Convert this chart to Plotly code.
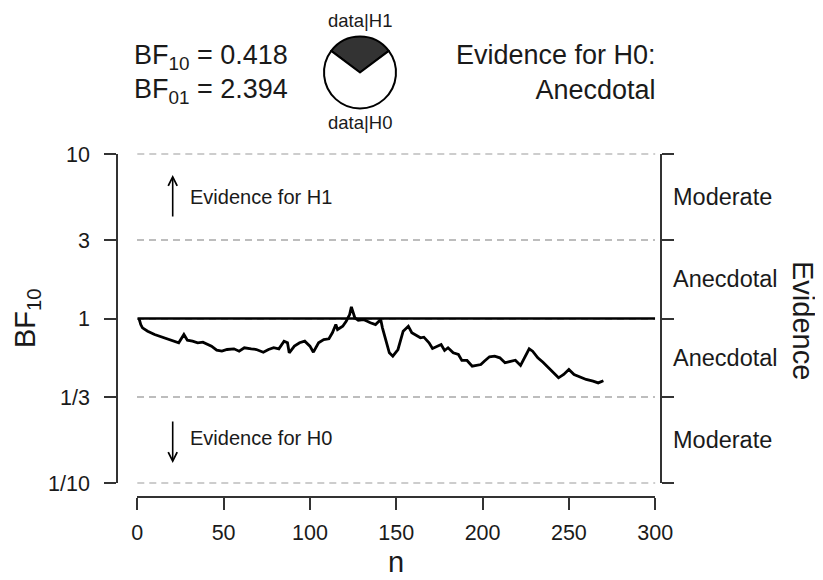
import numpy as np
import plotly.graph_objects as go

# ---------------- data ----------------
n_values = [1, 2, 3, 6, 10, 14, 17, 21, 24, 27, 29, 32, 35, 38, 41, 43, 46, 49, 52, 56,
            59, 62, 66, 69, 73, 76, 79, 82, 85, 87, 88, 91, 94, 97, 100, 102, 105, 108, 111, 113,
            115, 116, 119, 121, 123, 124, 126, 128, 131, 134, 135, 138, 141, 142, 144, 146, 148, 151, 154, 157,
            159, 161, 164, 166, 169, 171, 174, 176, 178, 180, 183, 186, 188, 191, 194, 197, 199, 201, 204, 207,
            210, 213, 216, 219, 222, 225, 227, 229, 232, 235, 238, 241, 244, 247, 250, 253, 256, 260, 264, 267,
            270]
bf10_values = [1.000, 0.919, 0.878, 0.837, 0.799, 0.774, 0.753, 0.728, 0.712, 0.799, 0.738, 0.728, 0.712, 0.718, 0.695, 0.679, 0.642, 0.633, 0.648, 0.654,
               0.633, 0.664, 0.654, 0.648, 0.624, 0.648, 0.664, 0.654, 0.728, 0.712, 0.619, 0.679, 0.712, 0.728, 0.679, 0.624, 0.712, 0.745, 0.753, 0.819,
               0.919, 0.857, 0.898, 0.963, 1.057, 1.178, 1.010, 0.976, 0.986, 0.950, 0.942, 0.919, 0.986, 0.878, 0.728, 0.619, 0.590, 0.648, 0.837, 0.898,
               0.819, 0.799, 0.763, 0.770, 0.712, 0.657, 0.679, 0.695, 0.639, 0.664, 0.619, 0.604, 0.556, 0.556, 0.513, 0.520, 0.525, 0.550, 0.585, 0.590,
               0.577, 0.538, 0.550, 0.558, 0.518, 0.590, 0.654, 0.633, 0.577, 0.542, 0.502, 0.468, 0.436, 0.457, 0.490, 0.457, 0.442, 0.426, 0.416, 0.406,
               0.418]

bf10_final = 0.418
bf01_final = 2.394
evidence_text = "Evidence for H0:<br>Anecdotal"

x_ticks = [0, 50, 100, 150, 200, 250, 300]
y_ticks = [1 / 10, 1 / 3, 1, 3, 10]
y_tick_labels = ["1/10", "1/3", "1", "3", "10"]
threshold_one = 1
evidence_bands = [(3, 10, "Moderate"), (1, 3, "Anecdotal"), (1 / 3, 1, "Anecdotal"), (1 / 10, 1 / 3, "Moderate")]
pie_labels = ["data|H1", "data|H0"]

# ---------------- layout helpers ----------------
W, H = 823, 580
OFF = 8  # page body margin
FONT = "Liberation Sans, Arial, Helvetica, sans-serif"
TXT = "#1a1a1a"
AX = "#333333"
GRID = "#BDBDBD"
DASH = "7px,5px"


def fx(p):
    return (p - OFF) / W


def fy(p):
    return 1 - (p - OFF) / H


fig = go.Figure()

# reference line at BF = 1
fig.add_trace(go.Scatter(x=[x_ticks[0], x_ticks[-1]], y=[threshold_one, threshold_one], mode="lines",
                         line=dict(color="black", width=2.6), hoverinfo="skip", showlegend=False))
# sequential BF line
fig.add_trace(go.Scatter(x=n_values, y=bf10_values, mode="lines",
                         line=dict(color="black", width=2.8), showlegend=False))
# dummy trace for the right axis
fig.add_trace(go.Scatter(x=[None], y=[None], yaxis="y2", showlegend=False, hoverinfo="skip"))

# pie
p_h1 = bf10_final / (1 + bf10_final)
fig.add_trace(go.Pie(values=[p_h1, 1 - p_h1], labels=pie_labels, sort=False, direction="clockwise",
                     rotation=-360 * p_h1 / 2, textinfo="none", hoverinfo="none",
                     marker=dict(colors=["#333333", "white"], line=dict(color="black", width=2)),
                     domain=dict(x=[fx(324), fx(396)], y=[fy(108.5), fy(36.5)]), showlegend=False))

tick_font = dict(family=FONT, size=21.5, color=TXT)

fig.update_layout(
    template="none",
    width=W, height=H, autosize=False,
    margin=dict(l=0, r=0, t=0, b=0, pad=0, autoexpand=False),
    paper_bgcolor="white", plot_bgcolor="white",
    showlegend=False,
    font=dict(family=FONT, color=TXT),
    xaxis=dict(domain=[fx(137.3), fx(655.2)], range=[0, 300], tickvals=x_ticks,
               ticks="outside", ticklen=12, tickwidth=1.5, tickcolor=AX, automargin=False,
               showline=True, linecolor=AX, linewidth=1.5, showgrid=False, zeroline=False,
               anchor="free", position=fy(497), tickfont=tick_font, ticklabelstandoff=4),
    yaxis=dict(type="log", range=[-1, 1], domain=[fy(483), fy(154)], tickvals=y_ticks, ticktext=y_tick_labels,
               ticks="outside", ticklen=12, tickwidth=1.5, tickcolor=AX, automargin=False,
               showline=True, linecolor=AX, linewidth=1.5, zeroline=False,
               showgrid=True, gridcolor=GRID, gridwidth=1.5, griddash=DASH,
               anchor="free", position=fx(117), tickfont=tick_font, ticklabelstandoff=10),
    yaxis2=dict(type="log", range=[-1, 1], overlaying="y", side="right", tickvals=y_ticks,
                showticklabels=False, ticks="outside", ticklen=12, tickwidth=1.5, tickcolor=AX,
                showline=True, linecolor=AX, linewidth=1.5, showgrid=False, zeroline=False,
                automargin=False, anchor="free", position=fx(661)),
)

# dashed lines at the top (10) and bottom (1/10) edges of the plotting region
for edge in (0, 1):
    fig.add_shape(type="line", xref="x domain", yref="y domain", x0=0, x1=1, y0=edge, y1=edge,
                  line=dict(color=GRID, width=1.5, dash=DASH), layer="below")

ann = []


def note(text, x, y, size, xanchor="center", yanchor="middle", yref="paper", **kw):
    ann.append(dict(text=text, x=x, y=y, xref="paper", yref=yref, xanchor=xanchor, yanchor=yanchor,
                    showarrow=False, font=dict(family=FONT, size=size, color=TXT), **kw))


# axis titles
note("n", fx(396), fy(562), 29)
note("BF<sub>10</sub>", fx(27), fy(318), 29, textangle=-90)
note("Evidence", fx(803), fy(320), 29, textangle=90)
# evidence band labels
for lo, hi, lab in evidence_bands:
    note(lab, fx(671), np.log10(np.sqrt(lo * hi)), 23.5, xanchor="left", yref="y")
# inner arrows
ann.append(dict(text="", x=fx(172.7), y=fy(175), xref="paper", yref="paper", ax=0, ay=43,
                showarrow=True, arrowhead=5, arrowsize=1.1, arrowwidth=1.6, arrowcolor="black"))
ann.append(dict(text="", x=fx(172.7), y=fy(463), xref="paper", yref="paper", ax=0, ay=-43,
                showarrow=True, arrowhead=5, arrowsize=1.1, arrowwidth=1.6, arrowcolor="black"))
note("Evidence for H1", fx(188), fy(197), 20, xanchor="left")
note("Evidence for H0", fx(188), fy(438), 20, xanchor="left")
# header texts
note("BF<sub>10</sub> = %.3f" % bf10_final, fx(132), fy(57), 27, xanchor="left")
note("BF<sub>01</sub> = %.3f" % bf01_final, fx(132), fy(91), 27, xanchor="left")
note(pie_labels[0], fx(360), fy(21), 18.5)
note(pie_labels[1], fx(360), fy(122), 18.5)
note(evidence_text, fx(658), fy(73), 27, xanchor="right", align="right")

fig.update_layout(annotations=ann)
fig.write_html("out.html")
